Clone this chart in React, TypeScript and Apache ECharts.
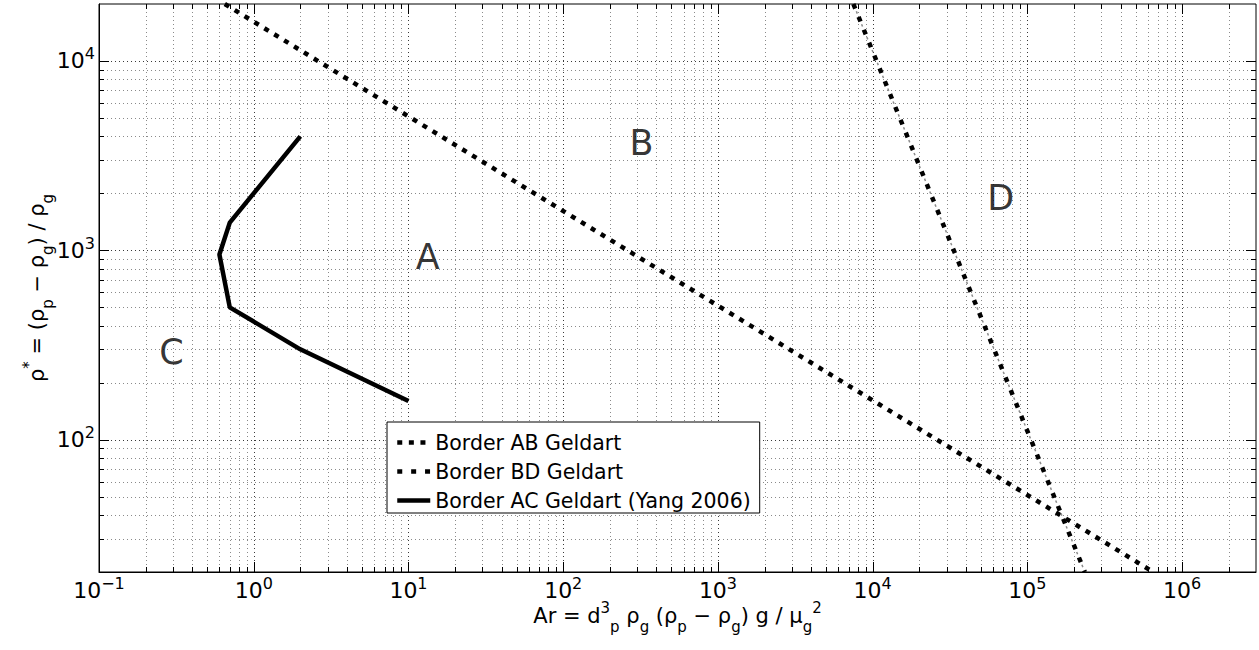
import React, { useEffect, useRef } from 'react';
import * as echarts from 'echarts';

const FONT = 'DejaVu Sans';

// axis ranges
const X_MIN = 0.1;
const X_MAX = 3e6;
const Y_MIN = 20;
const Y_MAX = 20000;

// decades used for the minor grid (2..9 x 10^k)
const xDecades = [-1, 0, 1, 2, 3, 4, 5, 6];
const yDecades = [1, 2, 3, 4];
const mantissas = [1, 2, 3, 4, 5, 6, 7, 8, 9];

// series data [Ar, rho*]
const borderAB = [
  [0.65, 20000],
  [6.5e5, 20],
];
const borderBD = [
  [7500, 20000],
  [2.35e5, 20],
];
const borderAC = [
  [2, 4000],
  [0.7, 1400],
  [0.6, 950],
  [0.7, 500],
  [2, 300],
  [10, 160],
];

// region letters [Ar, rho*, label]
const regionLabels = [
  [13.3, 926, 'A'],
  [321, 3690, 'B'],
  [0.294, 290, 'C'],
  [67100, 1893, 'D'],
];

const seriesNames = ['Border AB Geldart', 'Border BD Geldart', 'Border AC Geldart (Yang 2006)'];

function buildGrid(decades: number[], lo: number, hi: number) {
  const out: number[][] = [];
  decades.forEach((k) => {
    mantissas.forEach((m) => {
      const v = m * Math.pow(10, k);
      if (v > lo * 1.0001 && v < hi * 0.9999) out.push([v, m === 1 ? 1 : 0]);
    });
  });
  return out;
}

const xGrid = buildGrid(xDecades, X_MIN, X_MAX).map((d) => [d[0], Y_MIN, d[1]]);
const yGrid = buildGrid(yDecades, Y_MIN, Y_MAX).map((d) => [X_MIN, d[0], d[1]]);

function powLabel(value: number) {
  const e = Math.log10(value);
  const r = Math.round(e);
  if (Math.abs(e - r) > 1e-6) return '';
  const exp = r < 0 ? '\u2212' + Math.abs(r) : String(r);
  return '{b|10}{s|' + exp + '}';
}

const tickRich = {
  b: { fontSize: 22, lineHeight: 30, fontFamily: FONT, color: '#000' },
  s: { fontSize: 16, lineHeight: 16, verticalAlign: 'top', fontFamily: FONT, color: '#000' },
};

const nameRich = {
  m: { fontSize: 21, lineHeight: 40, fontFamily: FONT, color: '#000' },
  sup: { fontSize: 15, lineHeight: 15, verticalAlign: 'top', padding: [4, 0, 0, 0], fontFamily: FONT, color: '#000' },
  sub: { fontSize: 15, lineHeight: 15, verticalAlign: 'bottom', padding: [0, 0, 2, 0], fontFamily: FONT, color: '#000' },
};

const crisp = (v: number) => Math.round(v) + 0.5;

export default function App() {
  const ref = useRef<HTMLDivElement>(null);

  useEffect(() => {
    if (!ref.current) return;
    const chart = echarts.init(ref.current, undefined, { renderer: 'svg' });

    const option: any = {
      animation: false,
      backgroundColor: '#fff',
      textStyle: { fontFamily: FONT, color: '#000' },
      grid: {
        left: 99,
        right: 3,
        top: 4,
        bottom: 78,
        show: true,
        borderColor: '#000',
        borderWidth: 1,
        backgroundColor: 'transparent',
      },
      xAxis: {
        type: 'log',
        logBase: 10,
        min: X_MIN,
        max: X_MAX,
        axisLine: { show: true, lineStyle: { color: '#000', width: 1 } },
        axisTick: { show: false },
        splitLine: { show: false },
        axisLabel: { margin: 3, formatter: powLabel, rich: tickRich, showMinLabel: true, showMaxLabel: true },
        name: '{m|Ar = d}{sup|3}{sub|p}{m| \u03c1}{sub|g}{m| (\u03c1}{sub|p}{m| \u2212 \u03c1}{sub|g}{m|) g / \u03bc}{sub|g}{sup|2}',
        nameLocation: 'middle',
        nameGap: 24,
        nameMoveOverlap: false,
        nameTextStyle: { rich: nameRich, fontFamily: FONT, fontSize: 21, color: '#000' },
      },
      yAxis: {
        type: 'log',
        logBase: 10,
        min: Y_MIN,
        max: Y_MAX,
        axisLine: { show: true, lineStyle: { color: '#000', width: 1 } },
        axisTick: { show: false },
        splitLine: { show: false },
        axisLabel: { margin: 4, formatter: powLabel, rich: tickRich },
        name: '{m|\u03c1}{sup|*}{m| = (\u03c1}{sub|p}{m| \u2212 \u03c1}{sub|g}{m|) / \u03c1}{sub|g}',
        nameLocation: 'middle',
        nameRotate: 90,
        nameGap: 42,
        nameMoveOverlap: false,
        nameTextStyle: { rich: nameRich, fontFamily: FONT, fontSize: 21, color: '#000' },
      },
      legend: {
        data: seriesNames,
        orient: 'vertical',
        left: 387,
        top: 422,
        itemWidth: 33,
        itemHeight: 14,
        itemGap: 8,
        padding: [10, 9, 2, 8],
        backgroundColor: '#fff',
        borderColor: '#000',
        borderWidth: 1,
        borderRadius: 0,
        selectedMode: false,
        textStyle: { fontFamily: FONT, fontSize: 20.5, color: '#000', lineHeight: 20 },
        lineStyle: { width: 4.5 },
        itemStyle: { color: 'rgba(0,0,0,0)', borderWidth: 0, opacity: 0 },
      },
      series: [
        {
          type: 'custom',
          name: 'xgrid',
          data: xGrid,
          encode: { x: 0, y: 1 },
          silent: true,
          z: 1,
          renderItem: (params: any, api: any) => {
            const v = api.value(0);
            const major = api.value(2);
            const cs = params.coordSys;
            const x = crisp(api.coord([v, Y_MIN])[0]);
            const top = cs.y;
            const bot = cs.y + cs.height;
            const len = major ? 10 : 5;
            return {
              type: 'group',
              children: [
                { type: 'line', shape: { x1: x, y1: top, x2: x, y2: bot }, style: { stroke: major ? '#3a3a3a' : '#8a8a8a', lineWidth: 1, lineDash: [1, 3] } },
                { type: 'line', shape: { x1: x, y1: bot, x2: x, y2: bot - len }, style: { stroke: '#000', lineWidth: 1 } },
                { type: 'line', shape: { x1: x, y1: top, x2: x, y2: top + len }, style: { stroke: '#000', lineWidth: 1 } },
              ],
            };
          },
        },
        {
          type: 'custom',
          name: 'ygrid',
          data: yGrid,
          encode: { x: 0, y: 1 },
          silent: true,
          z: 1,
          renderItem: (params: any, api: any) => {
            const v = api.value(1);
            const major = api.value(2);
            const cs = params.coordSys;
            const y = crisp(api.coord([X_MIN, v])[1]);
            const left = cs.x;
            const right = cs.x + cs.width;
            const len = major ? 10 : 5;
            return {
              type: 'group',
              children: [
                { type: 'line', shape: { x1: left, y1: y, x2: right, y2: y }, style: { stroke: major ? '#3a3a3a' : '#8a8a8a', lineWidth: 1, lineDash: [1, 3] } },
                { type: 'line', shape: { x1: left, y1: y, x2: left + len, y2: y }, style: { stroke: '#000', lineWidth: 1 } },
                { type: 'line', shape: { x1: right, y1: y, x2: right - len, y2: y }, style: { stroke: '#000', lineWidth: 1 } },
              ],
            };
          },
        },
        {
          name: seriesNames[0],
          type: 'line',
          data: borderAB,
          symbol: 'none',
          z: 3,
          lineStyle: { color: '#000', width: 4.5, type: [5, 6.6] },
          itemStyle: { color: '#000' },
        },
        {
          name: seriesNames[1],
          type: 'line',
          data: borderBD,
          symbol: 'none',
          z: 3,
          lineStyle: { color: '#000', width: 4.5, type: [5, 8.9] },
          itemStyle: { color: '#000' },
        },
        {
          name: 'bd-accent',
          type: 'line',
          data: borderBD,
          symbol: 'none',
          z: 3,
          silent: true,
          lineStyle: { color: '#8c8c8c', width: 1.5, type: [2.5, 11.4], dashOffset: 5.7 },
        },
        {
          name: seriesNames[2],
          type: 'line',
          data: borderAC,
          symbol: 'none',
          z: 3,
          lineStyle: { color: '#000', width: 4.5, type: 'solid' },
          itemStyle: { color: '#000' },
        },
        {
          name: 'regions',
          type: 'scatter',
          data: regionLabels,
          symbolSize: 1,
          silent: true,
          z: 4,
          itemStyle: { color: 'rgba(0,0,0,0)' },
          label: {
            show: true,
            position: 'inside',
            formatter: (p: any) => p.data[2],
            fontFamily: FONT,
            fontSize: 35,
            color: '#000',
          },
        },
      ],
    };

    chart.setOption(option);
    return () => chart.dispose();
  }, []);

  return (
    <div
      ref={ref}
      style={{ position: 'fixed', left: 0, top: 0, width: 1259, height: 650, background: '#fff' }}
    />
  );
}
